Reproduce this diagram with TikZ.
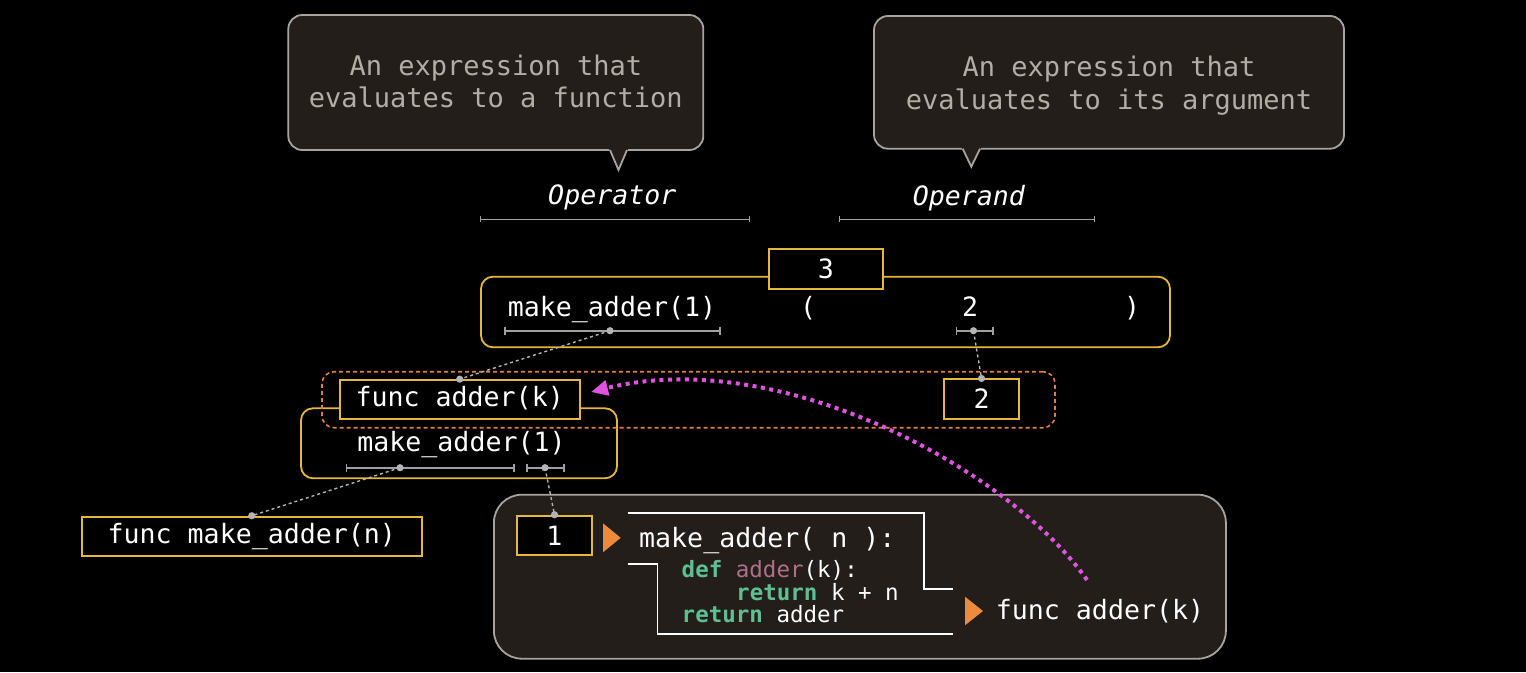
\documentclass[tikz,border=0pt]{standalone}
\usepackage{fontspec}
\newfontfamily\mono{DejaVu Sans Mono}
\usetikzlibrary{arrows.meta}
\definecolor{calfill}{HTML}{231E19}
\definecolor{calline}{HTML}{A8A39E}
\definecolor{caltext}{HTML}{B3ADA7}
\definecolor{gold}{HTML}{E5B73B}
\definecolor{orng}{HTML}{E0803A}
\definecolor{tri}{HTML}{EE8A3C}
\definecolor{pnk}{HTML}{E052E0}
\definecolor{kw}{HTML}{5FBF94}
\definecolor{fnc}{HTML}{B0708C}
\definecolor{brk}{HTML}{A0A0A0}
\definecolor{dotc}{HTML}{B4B4B4}
\newcommand\mybig{\mono\fontsize{26.6}{32.5}\selectfont}
\newcommand\mycode{\mono\fontsize{22.5}{22.5}\selectfont}
\newcommand\mycal{\mono\fontsize{27}{32.5}\selectfont}
\begin{document}
\begin{tikzpicture}[x=1pt,y=-1pt,
  calbox/.style={draw=calline, fill=calfill, line width=1.8pt, rounded corners=14pt, inner sep=0pt},
  caltxt/.style={anchor=base, align=center, text=caltext, font=\mycal, inner sep=0pt},
  labtxt/.style={anchor=base, text=white, font=\mybig\itshape, inner sep=0pt},
  etxt/.style={anchor=base, text=white, font=\mybig, inner sep=0pt},
  ybox/.style={draw=gold, line width=1.8pt, fill=black, inner sep=0pt, text=white, font=\mybig, text height=20pt, text depth=6pt},
  digbox/.style={ybox, text height=19.4pt, text depth=0pt},
  yround/.style={draw=gold, line width=1.8pt, rounded corners=12pt, inner sep=0pt},
  ygroup/.style={draw=orng, line width=1.6pt, dash pattern=on 4pt off 3pt, rounded corners=12pt, inner sep=0pt},
  brkline/.style={draw=brk, line width=1.6pt, {Bar[width=8pt]}-{Bar[width=8pt]}},
  lblbrk/.style={draw=brk, line width=1.3pt, {Bar[width=6pt]}-{Bar[width=6pt]}},
  conn/.style={draw=dotc, line width=1.4pt, dash pattern=on 3pt off 3pt},
  cdot/.style={fill=dotc},
  envbox/.style={draw=calline, fill=calfill, line width=1.8pt, rounded corners=28pt, inner sep=0pt},
  frameline/.style={draw=white, line width=1.8pt},
  codetxt/.style={anchor=base west, text=white, font=\mycode, inner sep=0pt},
  pinkarr/.style={draw=pnk, line width=4pt, dash pattern=on 4pt off 4.5pt, -{Triangle[length=17pt,width=15pt]}}
]
\useasboundingbox (0,0) rectangle (1526,672);
\fill[black] (0,0) rectangle (1526,672);

% callouts
\node[calbox, minimum width=415pt, minimum height=135pt] (c1) at (495.8,82.5) {};
\fill[calfill] (608,147) -- (618.5,170) -- (629,147) -- cycle;
\draw[calline, line width=1.8pt] (610,150) -- (618.5,170) -- (627,150);
\node[caltxt] (c1t) at (495.8,107.7) {An expression that\\evaluates to a function};

\node[calbox, minimum width=470pt, minimum height=132.7pt] (c2) at (1109,82.35) {};
\fill[calfill] (960.7,146) -- (971.3,166.7) -- (982,146) -- cycle;
\draw[calline, line width=1.8pt] (962.7,148.7) -- (971.3,166.7) -- (980,148.7);
\node[caltxt] (c2t) at (1109,109) {An expression that\\evaluates to its argument};

% operator / operand labels
\node[labtxt] (oplab) at (612.3,204.3) {Operator};
\draw[lblbrk] (480,219.3) -- (750,219.3);
\node[labtxt] (odlab) at (968.8,205) {Operand};
\draw[lblbrk] (839,219.3) -- (1095,219.3);

% main expression
\node[yround, minimum width=689pt, minimum height=70.6pt] (expr) at (825.5,312) {};
\node[digbox, minimum width=114pt, minimum height=39.4pt] (res) at (825.8,269) {3};
\node[etxt] (opr) at (612,316) {make\_adder(1)};
\node[etxt] (lpar) at (808,316) {(};
\node[etxt] (arg) at (970,316) {2};
\node[etxt] (rpar) at (1132,316) {)};
\draw[brkline] (504,330.7) -- (721,330.7);
\coordinate (d1) at (610,330.7);
\draw[brkline] (955.5,330.7) -- (994,330.7);
\coordinate (d2) at (973.5,330.7);

% make_adder(1) subexpression
\node[yround, minimum width=316pt, minimum height=70pt] (ma) at (459,443.3) {};
\node[etxt] (matext) at (461.5,451.7) {make\_adder(1)};
\draw[brkline] (345.7,467.7) -- (515,467.7);
\coordinate (d3) at (400,467.7);
\draw[brkline] (526,467.7) -- (565,467.7);
\coordinate (d4) at (545,467.7);

% values
\node[ybox, minimum width=240pt, minimum height=39.3pt] (fa) at (459.7,399.7) {func adder(k)};
\node[digbox, minimum width=75.7pt, minimum height=39.7pt] (b2) at (981.5,399.2) {2};
\node[ygroup, minimum width=733pt, minimum height=56pt] (grp) at (688.5,399.7) {};
\node[ybox, minimum width=340pt, minimum height=39.3pt] (fmn) at (251.8,536.3) {func make\_adder(n)};

% environment box
\node[envbox, minimum width=732pt, minimum height=164pt] (env) at (859.9,576.7) {};
\node[digbox, minimum width=75pt, minimum height=39.3pt] (b1) at (554.5,535.3) {1};
\fill[tri] (603,523.3) -- (620.7,537.8) -- (603,552.3) -- cycle;
\draw[frameline] (627.7,512.7) -- (924,512.7) -- (924,589.3) -- (952.7,589.3);
\draw[frameline] (627.7,564) -- (657.5,564) -- (657.5,634) -- (952.7,634);
\node[codetxt, font=\mybig] (fhead) at (639,547.3) {make\_adder( n ):};
\node[codetxt] (cl1) at (681.5,577.3) {{\color{kw}\bfseries def} {\color{fnc}adder}(k):};
\node[codetxt] (cl2) at (736,600) {{\color{kw}\bfseries return} k + n};
\node[codetxt] (cl3) at (681.5,622.3) {{\color{kw}\bfseries return} adder};
\fill[tri] (965,596.7) -- (983,611) -- (965,625.3) -- cycle;
\node[codetxt, font=\mybig] (fres) at (995.7,619) {func adder(k)};

% connectors
\draw[conn] (d1) -- (fa.north);
\draw[conn] (d2) -- (b2.north);
\draw[conn] (d3) -- (fmn.north);
\draw[conn] (d4) -- (b1.north);
\foreach \p in {d1,d2,d3,d4,fa.north,b2.north,fmn.north,b1.north}
  \fill[cdot] (\p) circle (3.6pt);

% return arrow
\coordinate (pstart) at (1087,580);
\coordinate (ptip) at (591,392);
\draw[pinkarr] (pstart) .. controls (1010,470) and (780,345) .. (ptip);
\end{tikzpicture}
\end{document}
